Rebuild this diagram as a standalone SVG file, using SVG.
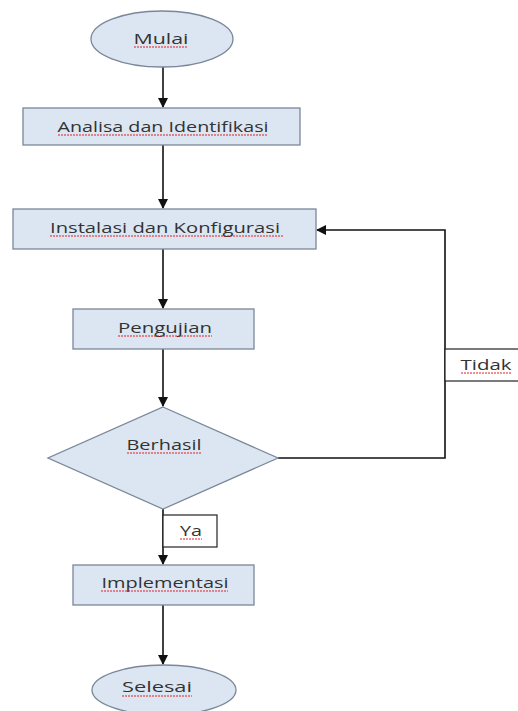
<svg xmlns="http://www.w3.org/2000/svg" width="518" height="711" viewBox="0 0 518 711">
<style>
.shape{fill:#dce6f2;stroke:#7a8799;stroke-width:1.3}
.lbl{fill:#fff;stroke:#222;stroke-width:1.2}
.t{font-family:"Open Sans","Liberation Sans",sans-serif;font-size:15px;fill:#333;text-anchor:middle}
.sq{fill:none;stroke:#e02020;stroke-width:1;stroke-dasharray:2 1}
.c{fill:none;stroke:#111;stroke-width:1.6}
</style>
<defs>
<marker id="ah" markerWidth="10" markerHeight="10" refX="9" refY="5" orient="auto" markerUnits="userSpaceOnUse">
<path d="M0,0 L10,5 L0,10 z" fill="#111"/>
</marker>
</defs>
<rect width="518" height="711" fill="#fff"/>
<g id="connectors">
<line class="c" x1="163" y1="67" x2="163" y2="107" marker-end="url(#ah)"/>
<line class="c" x1="163" y1="145" x2="163" y2="208" marker-end="url(#ah)"/>
<line class="c" x1="163" y1="249" x2="163" y2="308" marker-end="url(#ah)"/>
<line class="c" x1="163" y1="349" x2="163" y2="406" marker-end="url(#ah)"/>
<line class="c" x1="163" y1="509" x2="163" y2="564" marker-end="url(#ah)"/>
<line class="c" x1="163" y1="605" x2="163" y2="664" marker-end="url(#ah)"/>
<polyline class="c" points="278,458 445,458 445,230 317,230" marker-end="url(#ah)"/>
</g>
<g id="mulai">
<ellipse class="shape" cx="162" cy="39" rx="71" ry="28"/>
<text class="t" x="161" y="44" textLength="55" lengthAdjust="spacingAndGlyphs">Mulai</text>
<path class="sq" d="M134,47 H188"/>
</g>
<g id="analisa">
<rect class="shape" x="23" y="108" width="277" height="37"/>
<text class="t" x="163" y="132" textLength="211" lengthAdjust="spacingAndGlyphs">Analisa dan Identifikasi</text>
<path class="sq" d="M58,135 H268"/>
</g>
<g id="instalasi">
<rect class="shape" x="13" y="209" width="303" height="40"/>
<text class="t" x="165" y="233" textLength="230" lengthAdjust="spacingAndGlyphs">Instalasi dan Konfigurasi</text>
<path class="sq" d="M50,236 H283"/>
</g>
<g id="pengujian">
<rect class="shape" x="73" y="309" width="181" height="40"/>
<text class="t" x="165" y="333" textLength="94" lengthAdjust="spacingAndGlyphs">Pengujian</text>
<path class="sq" d="M118,336 H212"/>
</g>
<g id="berhasil">
<polygon class="shape" points="163,407 278,458 163,509 48,458"/>
<text class="t" x="164" y="450" textLength="75" lengthAdjust="spacingAndGlyphs">Berhasil</text>
<path class="sq" d="M127,453 H202"/>
</g>
<g id="tidak">
<rect class="lbl" x="445" y="349" width="80" height="32"/>
<text class="t" x="486" y="370" textLength="51" lengthAdjust="spacingAndGlyphs">Tidak</text>
<path class="sq" d="M461,373 H511"/>
</g>
<g id="ya">
<rect class="lbl" x="163" y="515" width="54" height="32"/>
<text class="t" x="191" y="536" textLength="22" lengthAdjust="spacingAndGlyphs">Ya</text>
<path class="sq" d="M180,539 H202"/>
</g>
<g id="implementasi">
<rect class="shape" x="73" y="565" width="181" height="40"/>
<text class="t" x="165" y="588" textLength="127" lengthAdjust="spacingAndGlyphs">Implementasi</text>
<path class="sq" d="M101,591 H228"/>
</g>
<g id="selesai">
<ellipse class="shape" cx="164" cy="690" rx="72" ry="25"/>
<text class="t" x="157" y="692" textLength="70" lengthAdjust="spacingAndGlyphs">Selesai</text>
<path class="sq" d="M122,696 H192"/>
</g>
</svg>
